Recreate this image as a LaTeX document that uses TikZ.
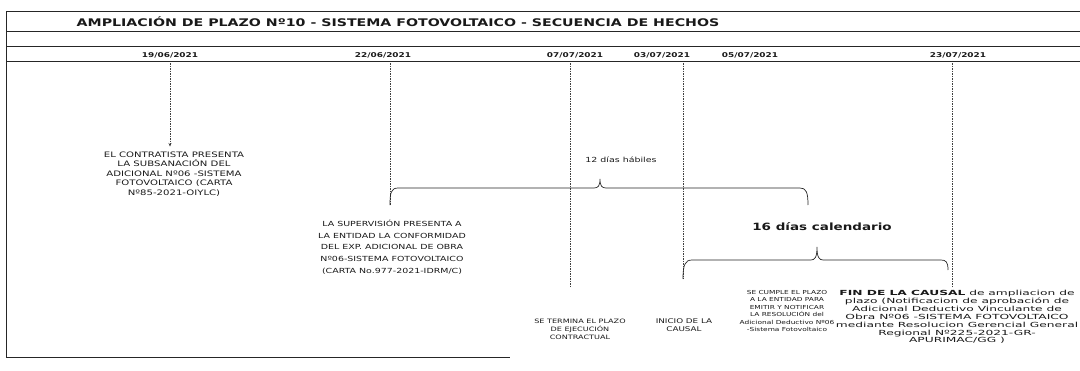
\documentclass[tikz,border=0pt]{standalone}
\usepackage{fontspec}
\setmainfont{DejaVu Sans}
\newfontfamily\fa[FakeStretch=1.35]{DejaVu Sans}
\newfontfamily\fb[FakeStretch=1.75]{DejaVu Sans}
\usetikzlibrary{arrows.meta}
\begin{document}
\begin{tikzpicture}[x=1pt,y=-1pt,
  rule/.style={line width=0.8pt,black!85},
  vline/.style={line width=0.6pt,black!75,dash pattern=on 1.5pt off 1pt},
  bracel/.style={line width=0.7pt,black!85},
  txt/.style={align=center,inner sep=0pt,text=black!90},
  datef/.style={txt,font=\fa\bfseries\fontsize{6.6}{7}\selectfont}]
\useasboundingbox (0,0) rectangle (1080,370);
% frame and header rules
\draw[rule] (6,357) -- (6,11) -- (1080,11);
\draw[rule] (6,357) -- (510,357);
\draw[rule] (6,31) -- (1080,31);
\draw[rule,line width=1pt] (6,46) -- (1080,46);
\draw[rule] (6,61) -- (1080,61);
\coordinate (hb) at (0,63);
% title
\node[txt,font=\fa\bfseries\fontsize{10.5}{12}\selectfont] (title) at (398,22)
  {AMPLIACIÓN DE PLAZO Nº10 - SISTEMA FOTOVOLTAICO - SECUENCIA DE HECHOS};
% dates
\node[datef] (d1) at (170,55) {19/06/2021};
\node[datef] (d2) at (383,55) {22/06/2021};
\node[datef] (d3) at (575,55) {07/07/2021};
\node[datef] (d4) at (662,55) {03/07/2021};
\node[datef] (d5) at (750,55) {05/07/2021};
\node[datef] (d6) at (958,55) {23/07/2021};
% event texts
\node[txt,font=\fa\fontsize{7.5}{9.5}\selectfont] (t1) at (174,174)
  {EL CONTRATISTA PRESENTA\\LA SUBSANACIÓN DEL\\ADICIONAL Nº06 -SISTEMA\\FOTOVOLTAICO (CARTA\\Nº85-2021-OIYLC)};
\node[txt,font=\fa\fontsize{7}{11.7}\selectfont] (t2) at (392,247)
  {LA SUPERVISIÓN PRESENTA A\\LA ENTIDAD LA CONFORMIDAD\\DEL EXP. ADICIONAL DE OBRA\\Nº06-SISTEMA FOTOVOLTAICO\\(CARTA No.977-2021-IDRM/C)};
\node[txt,font=\fa\fontsize{6}{8}\selectfont] (t3) at (580,329)
  {SE TERMINA EL PLAZO\\DE EJECUCIÓN\\CONTRACTUAL};
\node[txt,font=\fa\fontsize{6.5}{8}\selectfont] (t4) at (684,325)
  {INICIO DE LA\\CAUSAL};
\node[txt,font=\fa\fontsize{5.5}{7.5}\selectfont] (t5) at (787,311)
  {SE CUMPLE EL PLAZO\\A LA ENTIDAD PARA\\EMITIR Y NOTIFICAR\\LA RESOLUCIÓN del\\Adicional Deductivo Nº06\\-Sistema Fotovoltaico};
\node[txt,font=\fb\fontsize{7}{7.9}\selectfont] (t6) at (957,317)
  {\textbf{FIN DE LA CAUSAL} de ampliacion de\\plazo (Notificacion de aprobación de\\Adicional Deductivo Vinculante de\\Obra Nº06 -SISTEMA FOTOVOLTAICO\\mediante Resolucion Gerencial General\\Regional Nº225-2021-GR-\\APURIMAC/GG )};
% brace labels
\node[txt,font=\fa\fontsize{7}{8}\selectfont] (l12) at (621,160) {12 días hábiles};
\node[txt,font=\fa\bfseries\fontsize{10}{12}\selectfont] (l16) at (822,227) {16 días calendario};
% brace end points
\coordinate (b1l) at (390,205);
\coordinate (b1r) at (808,205);
\coordinate (b2l) at (683,279);
\coordinate (b2r) at (948,270);
% vertical date lines
\draw[vline,-{Stealth[length=3.5pt,width=3pt]},shorten >=5pt] (d1 |- hb) -- (d1 |- t1.north);
\draw[vline] (b1l |- hb) -- (b1l);
\draw[vline] (570,63) coordinate (v3) -- (570,287);
\draw[vline] (b2l |- hb) -- (b2l);
\draw[vline] (952,63) coordinate (v5) -- (952,286);
% braces
\draw[bracel] (b1l) .. controls (390,193) and (391,188) .. (398,188) -- (594,188)
  .. controls (598,188) and (600,186) .. (600,179)
  .. controls (600,186) and (602,188) .. (606,188) -- (800,188)
  .. controls (806,188) and (808,192) .. (b1r);
\draw[bracel] (b2l) .. controls (683,265) and (685,260) .. (692,260) -- (811,260)
  .. controls (815,260) and (817,257) .. (817,247)
  .. controls (817,257) and (819,260) .. (823,260) -- (941,260)
  .. controls (946,260) and (948,262) .. (b2r);
\end{tikzpicture}
\end{document}
